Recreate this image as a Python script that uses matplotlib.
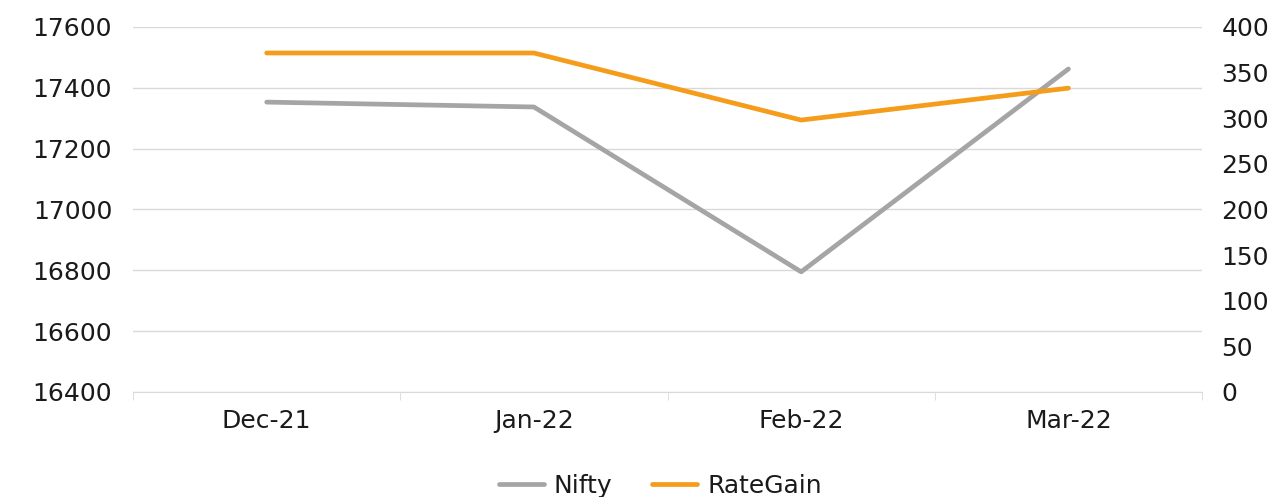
import matplotlib

matplotlib.use("Agg")
import matplotlib.pyplot as plt
from matplotlib.ticker import FixedLocator

months = ["Dec-21", "Jan-22", "Feb-22", "Mar-22"]
nifty = [17353, 17337, 16795, 17462]
rategain = [371.5, 371.5, 298, 333]
left_ticks = [16400, 16600, 16800, 17000, 17200, 17400, 17600]
right_ticks = [0, 50, 100, 150, 200, 250, 300, 350, 400]

GRAY = "#a5a5a8"
ORANGE = "#f59c1a"
INK = "#1a1a1a"
GRID = "#d9d9d9"

plt.rcParams["font.family"] = "DejaVu Sans"
plt.rcParams["font.size"] = 18

fig = plt.figure(figsize=(12.77, 4.97), dpi=100)
ax = fig.add_axes([0.1042, 0.2113, 0.8371, 0.7344])
ax2 = ax.twinx()

x = list(range(len(months)))
l1, = ax.plot(x, nifty, color=GRAY, lw=3.4, solid_capstyle="round", label="Nifty")
l2, = ax2.plot(x, rategain, color=ORANGE, lw=3.4, solid_capstyle="round", label="RateGain")

ax.set_xlim(-0.5, len(months) - 0.5)
ax.set_ylim(16400, 17600)
ax2.set_ylim(0, 400)
ax.set_yticks(left_ticks)
ax2.set_yticks(right_ticks)
ax.set_xticks(x, months)
ax.xaxis.set_minor_locator(FixedLocator([i - 0.5 for i in range(len(months) + 1)]))

ax.grid(axis="y", color=GRID, lw=1)
ax.set_axisbelow(True)
for a in (ax, ax2):
    for s in ("top", "right", "left"):
        a.spines[s].set_visible(False)
ax2.spines["bottom"].set_visible(False)
ax.spines["bottom"].set_color(GRID)

ax.tick_params(axis="y", length=0, pad=15, colors=INK)
ax2.tick_params(axis="y", length=0, pad=14, colors=INK)
ax.tick_params(axis="x", which="major", length=0, pad=12, colors=INK)
ax.tick_params(axis="x", which="minor", length=6, color=GRID)

fig.legend(handles=[l1, l2], loc="center", bbox_to_anchor=(0.517, 0.022),
           ncol=2, frameon=False, handlelength=1.8, columnspacing=1.6,
           handletextpad=0.4, labelcolor=INK, borderpad=0)

fig.savefig("out.png", dpi=100)
